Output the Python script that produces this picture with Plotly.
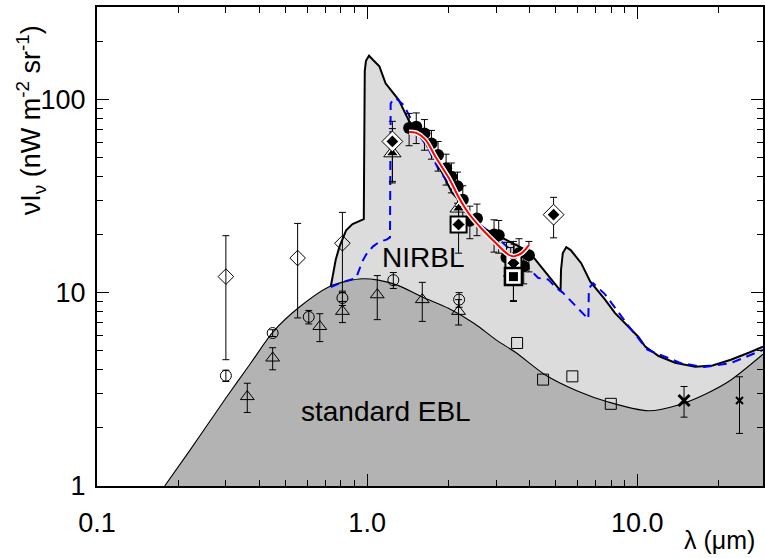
import plotly.graph_objects as go

# ---------------- data ----------------
# standard EBL curve
ebl_wl = [0.178, 0.22, 0.3, 0.37, 0.45, 0.56, 0.72, 0.85, 0.96, 1.1, 1.3, 1.6, 2.0, 2.5, 3.0,
          3.55, 4.57, 6.0, 7.8, 11.0, 14.5, 18.0, 22.0, 29.2]
ebl_val = [1.0, 1.52, 2.85, 4.3, 6.3, 8.4, 10.7, 11.5, 11.8, 11.6, 10.9, 9.5, 8.3, 6.9, 5.7,
           4.9, 3.75, 3.1, 2.72, 2.45, 2.65, 3.0, 3.5, 4.8]

# NIRBL (total) curve
nirbl_wl = [0.733, 0.745, 0.765, 0.79, 0.836, 0.883, 0.93, 0.972, 0.974, 0.976, 0.98, 0.99, 1.016,
            1.05, 1.11, 1.17, 1.31, 1.43, 1.65, 1.95, 2.06, 2.18, 2.3, 2.52, 2.89, 3.26, 3.86, 3.97,
            5.2, 5.22, 5.3, 5.46, 5.67, 6.2, 6.7, 7.6, 8.26, 10.1, 10.7, 12.0, 13.8, 16.4, 19.0,
            22.2, 26.0, 29.2]
nirbl_val = [10.7, 12.0, 14.8, 17.3, 21.0, 22.6, 23.4, 24.0, 40.0, 100.0, 140.0, 158.0, 168.0,
             160.0, 148.0, 121.0, 99.0, 77.0, 62.0, 38.4, 33.0, 30.2, 26.5, 23.0, 20.4, 18.8, 16.7,
             16.3, 10.2, 13.1, 16.0, 17.2, 16.6, 14.2, 11.4, 9.2, 7.85, 5.9, 5.26, 4.7, 4.34, 4.14,
             4.2, 4.5, 4.9, 5.26]

# blue dashed model
model_wl = [0.733, 0.82, 0.91, 0.934, 0.96, 0.99, 1.05, 1.11, 1.18, 1.215, 1.218, 1.222, 1.25,
            1.28, 1.37, 1.45, 1.55, 1.68, 1.84, 2.0, 2.2, 2.5, 3.0, 3.5, 3.97, 4.3, 4.68, 5.0,
            5.3, 5.86, 6.5, 6.59, 6.62, 6.86, 7.6, 9.3, 10.9, 14.5, 17.7, 22.2, 29.2]
model_val = [10.7, 11.4, 11.9, 13.1, 14.5, 15.7, 17.3, 18.3, 18.8, 19.3, 40.0, 95.0, 100.0,
             101.0, 93.0, 79.0, 66.0, 56.0, 43.2, 37.0, 31.0, 23.5, 19.5, 16.0, 13.4, 11.9, 11.7,
             10.6, 10.0, 8.65, 7.4, 7.3, 10.5, 11.2, 9.8, 6.7, 5.07, 4.32, 4.12, 4.32, 5.06]

# red fit
fit_wl = [1.43, 1.52, 1.64, 1.79, 2.02, 2.18, 2.37, 2.67, 3.0, 3.34, 3.5, 3.73, 3.97]
fit_val = [67.8, 67.0, 62.0, 50.4, 38.5, 31.2, 25.8, 21.2, 18.0, 15.7, 15.4, 16.0, 17.6]

# filled circles
fc_wl = [1.43, 1.52, 1.63, 1.73, 1.83, 1.96, 2.05, 2.16, 2.26, 2.40, 2.55, 2.95, 3.07, 3.28,
         3.40, 3.50, 3.65, 3.80, 3.97]
fc_val = [71, 72, 66.5, 59, 51.5, 44, 39.8, 35.5, 30.2, 23.5, 24.2, 20, 19.8, 15.2, 14.3, 14.8,
          16, 13.7, 15.6]
fc_err = [13.5, 13, 12, 10, 9, 8, 7, 6.5, 5.5, 4.5, 4.5, 3.8, 3.8, 3, 2.8, 3, 3, 2.6, 2.8]

# open circles
oc_wl = [0.3, 0.447, 0.608, 0.81, 1.25, 2.19]
oc_val = [3.72, 6.18, 7.49, 9.38, 11.6, 9.2]
oc_err = [0.25, 0.25, 0.6, 0.8, 1.1, 0.8]

# open triangles
ot_wl = [0.36, 0.447, 0.668, 0.81, 1.09, 1.6, 2.18]
ot_val = [2.9, 4.59, 6.68, 8.0, 9.75, 9.2, 8.0]
ot_err = [0.5, 0.6, 1.1, 1.0, 2.5, 2.1, 1.2]

# open diamonds
od_wl = [0.3, 0.553, 0.81]
od_val = [12.1, 15.1, 18.0]
od_err = [7.6, 7.7, 8.0]

# open squares
os_wl = [3.59, 4.48, 5.75, 7.98]
os_val = [5.49, 3.55, 3.69, 2.66]

# ringed (filled) diamonds
rd_wl = [1.24, 4.9]
rd_val = [60.5, 25.3]
rd_errp = [16.4, 5.8]
rd_errm = [23.6, 6.1]

# ringed (filled) triangles
rt_wl = [1.24, 2.18]
rt_val = [52.7, 27.3]
rt_errp = [17.8, 4.0]
rt_errm = [15.1, 4.0]

# squares with diamond inside
sqd_wl = [2.18, 3.48]
sqd_val = [22.5, 14.2]
sqd_errp = [5.4, 4.2]
sqd_errm = [6.5, 5.2]

# square with filled square inside
sqs_wl = [3.48]
sqs_val = [12.1]
sqs_err = [3.0]

# crosses
x1_wl = [14.9]
x1_val = [2.77]
x1_err = [0.5]
x2_wl = [23.9]
x2_val = [2.77]
x2_err = [0.9]

# axis ticks
xtick_vals = [0.1, 1, 10]
xtick_text = ["0.1", "1.0", "10.0"]
ytick_vals = [1, 10, 100]
ytick_text = ["1", "10", "100"]
xminor = [0.2, 0.3, 0.4, 0.5, 0.6, 0.7, 0.8, 0.9, 2, 3, 4, 5, 6, 7, 8, 9, 20, 30]
yminor = [2, 3, 4, 5, 6, 7, 8, 9, 20, 30, 40, 50, 60, 70, 80, 90, 200, 300]

FONT = "Liberation Sans, Arial, sans-serif"
BLACK = "black"

fig = go.Figure()

# fills
fig.add_trace(go.Scatter(x=nirbl_wl, y=nirbl_val, mode="lines", fill="tozeroy",
                         fillcolor="#dcdcdc", line=dict(width=0, color="#dcdcdc"),
                         hoverinfo="skip"))
fig.add_trace(go.Scatter(x=ebl_wl, y=ebl_val, mode="lines", fill="tozeroy",
                         fillcolor="#b3b3b3", line=dict(width=1.1, color=BLACK, shape="spline",
                                                        smoothing=0.8),
                         hoverinfo="skip"))
# NIRBL line
fig.add_trace(go.Scatter(x=nirbl_wl, y=nirbl_val, mode="lines",
                         line=dict(width=2, color=BLACK), hoverinfo="skip"))
# blue dashed
fig.add_trace(go.Scatter(x=model_wl, y=model_val, mode="lines",
                         line=dict(width=2, color="#0000ff", dash="9px,6px"), hoverinfo="skip"))


def ebar(arr, arrm=None, w=3.5):
    d = dict(type="data", array=arr, color=BLACK, thickness=1, width=w, visible=True)
    if arrm is not None:
        d["symmetric"] = False
        d["arrayminus"] = arrm
    return d


# open diamonds
fig.add_trace(go.Scatter(x=od_wl, y=od_val, mode="markers", error_y=ebar(od_err),
                         marker=dict(symbol="diamond-open", size=12, color=BLACK,
                                     line=dict(width=1, color=BLACK))))
# open circles
fig.add_trace(go.Scatter(x=oc_wl, y=oc_val, mode="markers", error_y=ebar(oc_err),
                         marker=dict(symbol="circle-open", size=11, color=BLACK,
                                     line=dict(width=1, color=BLACK))))
# open triangles
fig.add_trace(go.Scatter(x=ot_wl, y=ot_val, mode="markers", error_y=ebar(ot_err),
                         marker=dict(symbol="triangle-up-open", size=12, color=BLACK,
                                     line=dict(width=1, color=BLACK))))
# open squares
fig.add_trace(go.Scatter(x=os_wl, y=os_val, mode="markers",
                         marker=dict(symbol="square-open", size=11, color=BLACK,
                                     line=dict(width=1, color=BLACK))))
# crosses
fig.add_trace(go.Scatter(x=x1_wl, y=x1_val, mode="markers", error_y=ebar(x1_err),
                         marker=dict(symbol="x-thin-open", size=11, color=BLACK,
                                     line=dict(width=3, color=BLACK))))
fig.add_trace(go.Scatter(x=x2_wl, y=x2_val, mode="markers", error_y=ebar(x2_err),
                         marker=dict(symbol="x-thin-open", size=7, color=BLACK,
                                     line=dict(width=2, color=BLACK))))
# filled circles
fig.add_trace(go.Scatter(x=fc_wl, y=fc_val, mode="markers", error_y=ebar(fc_err),
                         marker=dict(symbol="circle", size=12, color=BLACK,
                                     line=dict(width=0))))
# ringed triangles
fig.add_trace(go.Scatter(x=rt_wl, y=rt_val, mode="markers", error_y=ebar(rt_errp, rt_errm),
                         marker=dict(symbol="triangle-up", size=15, color="white",
                                     line=dict(width=1, color=BLACK))))
fig.add_trace(go.Scatter(x=rt_wl, y=rt_val, mode="markers",
                         marker=dict(symbol="triangle-up", size=9, color=BLACK,
                                     line=dict(width=0))))
# ringed diamonds
fig.add_trace(go.Scatter(x=rd_wl, y=rd_val, mode="markers", error_y=ebar(rd_errp, rd_errm),
                         marker=dict(symbol="diamond", size=16, color="white",
                                     line=dict(width=1, color=BLACK))))
fig.add_trace(go.Scatter(x=rd_wl, y=rd_val, mode="markers",
                         marker=dict(symbol="diamond", size=9, color=BLACK,
                                     line=dict(width=0))))
# squares with diamond
fig.add_trace(go.Scatter(x=sqd_wl, y=sqd_val, mode="markers", error_y=ebar(sqd_errp, sqd_errm),
                         marker=dict(symbol="square", size=16, color="white",
                                     line=dict(width=2, color=BLACK))))
fig.add_trace(go.Scatter(x=sqd_wl, y=sqd_val, mode="markers",
                         marker=dict(symbol="diamond", size=10, color=BLACK,
                                     line=dict(width=1, color="white"))))
# square with filled square
fig.add_trace(go.Scatter(x=sqs_wl, y=sqs_val, mode="markers", error_y=ebar(sqs_err),
                         marker=dict(symbol="square", size=17, color="white",
                                     line=dict(width=2.5, color=BLACK))))
fig.add_trace(go.Scatter(x=sqs_wl, y=sqs_val, mode="markers",
                         marker=dict(symbol="square", size=9, color=BLACK,
                                     line=dict(width=0))))
# red fit with white outline
fig.add_trace(go.Scatter(x=fit_wl, y=fit_val, mode="lines",
                         line=dict(width=5, color="white", shape="spline"), hoverinfo="skip"))
fig.add_trace(go.Scatter(x=fit_wl, y=fit_val, mode="lines",
                         line=dict(width=2, color="#ff0000", shape="spline"), hoverinfo="skip"))

axis_common = dict(
    type="log", showgrid=False, zeroline=False, showline=True, linecolor=BLACK, linewidth=2,
    mirror="ticks", ticks="inside", ticklen=12, tickwidth=1.3, tickcolor=BLACK,
    tickfont=dict(family=FONT, size=27, color=BLACK),
)

fig.update_xaxes(range=[-1, 1.4654], tickmode="array", tickvals=xtick_vals, ticktext=xtick_text,
                 minor=dict(tickmode="array", tickvals=xminor, ticks="inside", ticklen=6,
                            tickwidth=1.2, tickcolor=BLACK, showgrid=False),
                 ticklabelstandoff=12, **axis_common)
fig.update_yaxes(range=[0, 2.4771], tickmode="array", tickvals=ytick_vals, ticktext=ytick_text,
                 minor=dict(tickmode="array", tickvals=yminor, ticks="inside", ticklen=6,
                            tickwidth=1.2, tickcolor=BLACK, showgrid=False),
                 ticklabelstandoff=4, **axis_common)

fig.update_layout(
    width=765, height=558, margin=dict(l=97, r=0, t=7, b=72),
    paper_bgcolor="white", plot_bgcolor="white", showlegend=False,
    font=dict(family=FONT, size=26, color=BLACK),
    annotations=[
        dict(text="NIRBL", x=0.2066, y=1.18, xref="x", yref="y", showarrow=False,
             font=dict(family=FONT, size=28, color=BLACK)),
        dict(text="standard EBL", x=0.070, y=0.384, xref="x", yref="y", showarrow=False,
             font=dict(family=FONT, size=28, color=BLACK)),
        dict(text="νI<sub>ν</sub> (nW m<sup>-2</sup> sr<sup>-1</sup>)", x=-0.0988, y=0.764,
             xref="paper", yref="paper", showarrow=False, textangle=-90,
             xanchor="center", yanchor="middle", font=dict(family=FONT, size=27, color=BLACK)),
        dict(text="λ (μm)", x=0.934, y=-0.113, xref="paper", yref="paper", showarrow=False,
             xanchor="center", yanchor="middle", font=dict(family=FONT, size=25, color=BLACK)),
    ],
)

fig.write_html("out.html")
